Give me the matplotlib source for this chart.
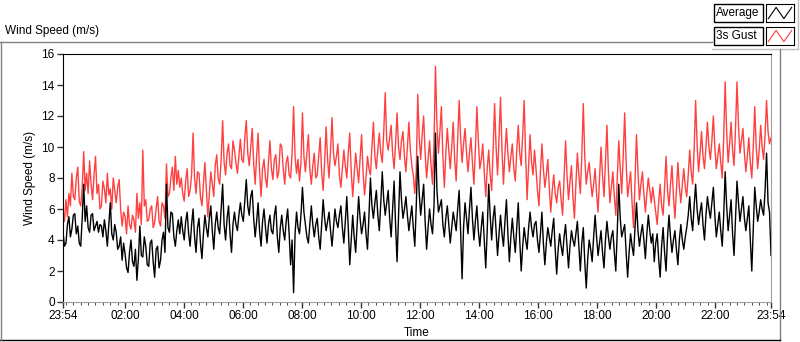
import numpy as np
import matplotlib
matplotlib.use('Agg')
import matplotlib.pyplot as plt
from matplotlib.lines import Line2D
from matplotlib.patches import Rectangle

plt.rcParams['font.family'] = ['Liberation Sans', 'DejaVu Sans']

# 3-minute samples, 23:54 -> 23:54 (one row = 1 hour)
gust = [
    6.0, 5.2, 6.6, 5.5, 7.0, 6.2, 8.3, 6.8, 6.6, 8.0, 8.7, 6.5, 6.2, 7.4, 9.7, 7.2, 8.3, 7.0, 9.1, 7.6,
    6.6, 8.2, 9.4, 7.0, 7.6, 6.0, 6.2, 7.8, 7.3, 6.4, 8.3, 6.9, 7.3, 6.0, 8.0, 7.2, 6.4, 7.4, 7.9, 6.0,
    4.9, 5.8, 5.5, 4.4, 6.2, 5.0, 4.7, 5.6, 5.3, 4.5, 7.0, 5.4, 6.4, 5.0, 9.8, 6.2, 6.6, 5.2, 5.3, 6.0,
    6.2, 4.8, 5.1, 6.0, 6.8, 5.2, 4.9, 6.4, 6.2, 5.4, 8.9, 6.8, 7.0, 8.0, 8.7, 7.2, 9.4, 7.6, 8.5, 7.4,
    8.0, 7.0, 6.5, 7.8, 8.6, 6.8, 7.2, 8.2, 10.9, 8.0, 7.0, 8.4, 8.3, 6.8, 6.2, 7.6, 9.0, 7.2, 5.5, 7.0,
    8.4, 7.6, 6.8, 8.8, 9.5, 8.0, 7.6, 9.2, 11.7, 9.0, 8.2, 9.6, 10.2, 8.8, 8.6, 10.4, 9.8, 9.0, 8.3, 9.4,
    10.5, 9.2, 9.0, 10.6, 11.7, 9.6, 8.8, 10.0, 11.2, 9.0, 7.6, 9.4, 10.9, 8.4, 6.8, 8.6, 9.2, 8.0, 7.4, 9.0,
    10.4, 8.6, 7.9, 9.2, 9.5, 8.0, 8.4, 10.2, 10.0, 8.6, 7.6, 9.0, 9.4, 8.2, 8.0, 9.6, 12.6, 9.4, 8.3, 9.2,
    7.8, 9.0, 12.2, 9.4, 8.4, 9.6, 10.8, 8.6, 7.6, 8.8, 9.6, 8.0, 8.2, 9.4, 10.6, 8.4, 7.2, 9.0, 11.3, 9.2,
    8.0, 9.8, 11.9, 9.6, 8.8, 9.4, 10.2, 8.2, 7.4, 8.6, 9.8, 8.8, 8.0, 9.6, 10.9, 8.4, 6.8, 8.2, 9.6, 8.6,
    7.7, 9.2, 10.8, 8.4, 6.9, 8.0, 9.4, 8.6, 8.2, 10.0, 11.6, 9.4, 8.6, 9.8, 10.9, 9.6, 9.0, 11.0, 13.5, 10.4,
    9.8, 10.6, 11.4, 9.6, 8.6, 10.2, 12.2, 10.0, 9.2, 10.4, 11.0, 9.4, 8.4, 10.0, 11.6, 9.8, 8.8, 8.2, 7.0, 8.4,
    13.4, 10.6, 9.2, 10.8, 12.0, 9.6, 8.0, 9.2, 10.4, 8.8, 7.6, 10.2, 15.2, 11.4, 9.6, 11.0, 12.6, 9.4, 7.4, 9.6,
    11.2, 9.8, 8.6, 10.0, 11.6, 9.2, 7.8, 10.4, 13.0, 10.6, 9.0, 10.2, 11.2, 9.6, 8.4, 9.6, 10.6, 9.0, 7.6, 9.8,
    12.6, 10.4, 8.6, 9.2, 10.2, 8.4, 6.8, 8.6, 9.8, 8.2, 7.2, 9.8, 12.8, 10.0, 8.2, 10.6, 13.2, 9.8, 7.6, 9.6,
    11.2, 9.6, 8.4, 9.4, 10.2, 8.6, 7.8, 9.8, 11.4, 9.6, 8.8, 10.8, 13.0, 9.4, 6.6, 8.8, 10.8, 9.0, 8.2, 9.8,
    8.6, 7.2, 6.2, 8.4, 10.2, 8.6, 7.4, 8.2, 9.2, 7.4, 5.8, 7.2, 8.2, 7.0, 6.4, 7.4, 7.8, 6.6, 5.6, 8.0,
    10.4, 8.2, 6.6, 7.8, 8.8, 6.8, 5.4, 7.6, 9.6, 8.2, 7.0, 9.4, 12.8, 9.4, 7.6, 8.4, 9.0, 7.8, 6.8, 7.6,
    8.6, 7.0, 5.8, 8.0, 10.0, 8.2, 6.8, 9.0, 11.4, 8.4, 6.4, 7.4, 8.4, 6.8, 5.6, 8.0, 10.4, 8.6, 7.0, 9.4,
    12.2, 9.0, 6.8, 7.6, 8.4, 6.4, 4.8, 7.8, 10.8, 8.4, 6.6, 7.6, 8.4, 7.0, 5.8, 7.0, 8.0, 7.2, 6.4, 7.4,
    6.6, 5.8, 5.0, 6.4, 7.6, 6.2, 5.6, 7.4, 9.4, 7.2, 6.2, 7.6, 8.8, 6.8, 5.4, 7.2, 9.0, 7.4, 6.4, 7.6,
    8.6, 7.4, 6.8, 8.2, 9.8, 8.4, 7.6, 9.8, 13.0, 10.2, 8.4, 9.6, 11.0, 9.4, 8.6, 10.0, 11.6, 10.0, 9.2, 10.4,
    12.0, 10.0, 8.6, 9.4, 10.2, 9.0, 8.0, 10.6, 14.2, 11.0, 9.0, 10.2, 11.6, 9.8, 8.8, 11.2, 14.2, 11.4, 9.6, 10.4,
    11.2, 9.6, 8.4, 9.4, 10.6, 9.0, 8.0, 10.0, 12.6, 10.0, 8.6, 9.8, 11.4, 10.0, 9.2, 10.8, 13.0, 11.0, 10.2, 10.6,
]
average = [
    4.5, 3.6, 3.8, 5.0, 5.5, 4.2, 4.7, 5.6, 5.7, 4.4, 4.9, 3.8, 3.6, 5.4, 7.6, 5.2, 6.2, 4.8, 4.5, 5.6,
    5.7, 4.6, 4.9, 5.2, 4.5, 5.0, 4.9, 4.2, 5.3, 4.6, 3.6, 5.0, 6.4, 4.4, 4.0, 5.0, 4.5, 3.4, 3.6, 4.2,
    2.7, 3.8, 3.1, 2.2, 1.9, 3.2, 4.0, 2.6, 2.3, 3.4, 1.4, 2.8, 4.9, 3.0, 2.9, 4.2, 3.6, 2.4, 2.3, 3.8,
    4.0, 2.6, 1.6, 3.4, 3.6, 2.2, 2.7, 4.0, 4.5, 3.2, 7.6, 4.8, 4.5, 5.8, 5.7, 4.2, 3.6, 4.6, 5.3, 4.4,
    5.5, 4.6, 4.0, 5.2, 5.8, 4.4, 3.6, 5.0, 6.0, 4.2, 3.2, 4.8, 5.4, 3.8, 2.8, 4.4, 5.6, 4.8, 4.2, 5.4,
    6.2, 4.6, 3.4, 5.0, 5.8, 4.8, 4.4, 6.0, 7.6, 5.0, 4.0, 5.4, 6.2, 4.4, 3.2, 5.0, 5.8, 5.0, 4.6, 5.6,
    6.4, 5.6, 5.2, 6.6, 7.9, 6.2, 5.6, 6.8, 7.2, 5.4, 4.2, 5.2, 6.4, 4.6, 3.6, 5.2, 6.0, 4.8, 3.8, 5.0,
    5.6, 4.6, 4.4, 5.6, 6.2, 4.2, 3.2, 4.8, 5.6, 4.6, 4.0, 5.2, 6.0, 4.4, 2.4, 4.0, 0.6, 4.4, 5.8, 4.8,
    4.4, 5.6, 7.4, 5.8, 5.0, 4.2, 3.8, 5.0, 6.2, 5.0, 4.2, 5.0, 5.4, 4.2, 3.4, 5.0, 6.6, 5.4, 4.6, 5.2,
    5.8, 4.6, 3.6, 4.8, 6.0, 5.2, 4.8, 5.6, 6.2, 4.8, 3.8, 5.2, 6.8, 4.8, 2.4, 4.0, 5.6, 4.2, 3.2, 5.0,
    6.8, 5.4, 4.4, 5.0, 5.8, 4.4, 3.4, 5.6, 8.0, 6.2, 5.4, 6.4, 7.2, 5.6, 4.6, 6.4, 8.4, 6.6, 5.6, 6.4,
    7.2, 5.4, 4.2, 6.0, 7.8, 5.0, 2.6, 5.4, 8.4, 6.6, 5.4, 6.0, 6.8, 5.6, 4.6, 5.4, 6.2, 4.8, 3.6, 6.2,
    9.4, 7.0, 5.6, 6.6, 7.6, 5.2, 3.4, 4.8, 6.0, 5.0, 4.4, 6.2, 10.9, 7.2, 5.8, 6.2, 6.6, 5.0, 4.2, 5.4,
    6.2, 5.0, 3.8, 4.8, 5.8, 5.2, 4.6, 6.0, 7.2, 4.6, 1.5, 4.8, 6.4, 5.4, 4.4, 6.0, 7.4, 5.4, 4.0, 5.2,
    6.2, 4.6, 3.6, 4.8, 5.8, 4.0, 2.2, 4.6, 7.6, 5.6, 4.0, 5.4, 6.2, 4.6, 3.0, 4.4, 5.6, 4.4, 3.6, 5.2,
    6.6, 4.4, 2.6, 4.2, 5.4, 4.2, 3.2, 4.8, 6.4, 4.0, 2.0, 3.6, 4.8, 4.0, 3.4, 4.8, 5.8, 4.8, 4.2, 5.0,
    5.2, 4.0, 3.2, 4.4, 5.8, 3.8, 2.4, 3.8, 4.8, 4.2, 3.6, 4.6, 5.4, 3.4, 1.8, 3.4, 4.4, 3.6, 3.0, 4.2,
    5.0, 3.6, 2.2, 3.6, 4.6, 4.0, 3.6, 4.4, 5.2, 3.6, 2.0, 3.8, 4.8, 2.6, 0.9, 2.8, 4.0, 3.4, 2.6, 4.2,
    5.6, 4.2, 3.0, 3.8, 4.6, 3.2, 2.2, 4.0, 5.2, 4.2, 3.4, 4.2, 4.6, 3.2, 2.0, 4.6, 7.6, 5.4, 4.2, 4.6,
    5.0, 3.2, 1.6, 3.2, 4.4, 3.6, 3.0, 4.8, 6.4, 4.6, 3.6, 4.4, 5.0, 4.0, 2.8, 4.4, 5.6, 4.6, 3.8, 4.4,
    2.6, 3.8, 4.4, 2.8, 1.6, 3.6, 4.8, 3.2, 2.0, 4.2, 5.6, 4.2, 3.2, 4.0, 4.6, 3.4, 2.4, 4.0, 5.0, 4.0,
    3.4, 4.2, 4.8, 5.6, 6.8, 5.4, 4.6, 6.2, 7.6, 6.0, 5.0, 5.8, 6.4, 5.0, 4.0, 5.6, 6.8, 6.0, 5.4, 6.4,
    7.4, 5.6, 4.2, 5.0, 5.8, 4.6, 3.6, 5.6, 8.4, 6.2, 4.6, 5.6, 6.6, 4.4, 3.0, 5.4, 7.8, 6.4, 5.2, 6.0,
    6.8, 5.4, 4.6, 5.4, 6.2, 4.0, 2.0, 4.8, 7.4, 6.2, 5.2, 5.8, 6.6, 6.0, 5.6, 7.2, 9.6, 6.4, 5.8, 3.0,
]

tick_minutes = [0, 126, 246, 366, 486, 606, 726, 846, 966, 1086, 1206, 1326, 1440]
tick_labels = ['23:54', '02:00', '04:00', '06:00', '08:00', '10:00', '12:00',
               '14:00', '16:00', '18:00', '20:00', '22:00', '23:54']

n = len(gust)
t = np.arange(n) * 1440 / (n - 1)

fig = plt.figure(figsize=(8, 3.42), dpi=100)
ax = fig.add_axes([63/800, 1 - 302/342, 708/800, 248/342])

ax.plot(t, gust, color='#ff4040', lw=1)
ax.plot(t, average, color='black', lw=1)

ax.set_xlim(0, 1440)
ax.set_ylim(0, 16)
ax.set_yticks(range(0, 17, 2))
ax.set_xticks(tick_minutes)
ax.set_xticklabels(tick_labels)
ax.set_xticks(np.arange(6, 1440, 15), minor=True)
ax.tick_params(axis='both', labelsize=8.5, length=4, width=1, color='#333333', pad=2)
ax.tick_params(axis='x', which='minor', length=2.5, color='#333333')
ax.set_ylabel('Wind Speed (m/s)', fontsize=8.5, labelpad=4)
ax.set_xlabel('Time', fontsize=8.5, labelpad=3)

ax.spines['top'].set_color('black')
ax.spines['left'].set_color('black')
ax.spines['right'].set_color('#a0a0a0')
ax.spines['bottom'].set_color('#a0a0a0')

# outer panel frame
gray = '#808080'
fig.add_artist(Line2D([0, 712/800], [1 - 42/342] * 2, color=gray, lw=1))
fig.add_artist(Line2D([712/800, 798/800], [1 - 49/342] * 2, color='#c0c0c0', lw=1))
fig.add_artist(Line2D([798/800] * 2, [1 - 49/342, 1], color='#c0c0c0', lw=1))
fig.add_artist(Line2D([780/800] * 2, [1 - 49/342, 1 - 340/342], color=gray, lw=1))
fig.add_artist(Line2D([0, 780/800], [1 - 340/342] * 2, color='black', lw=1))
fig.add_artist(Line2D([0.5/800] * 2, [1 - 42/342, 1 - 340/342], color=gray, lw=1))

fig.text(5/800, 1 - 31/342, 'Wind Speed (m/s)', fontsize=8.5, va='center', ha='left')

# legend
for i, (name, col) in enumerate([('Average', 'black'), ('3s Gust', '#ff4040')]):
    top = 4 + 23 * i
    fig.add_artist(Rectangle((714/800, 1 - (top + 18)/342), 49/800, 18/342,
                             transform=fig.transFigure, fc='white', ec='black', lw=1))
    fig.text(716/800, 1 - (top + 9)/342, name, fontsize=8.5, va='center', ha='left')
    lax = fig.add_axes([766/800, 1 - (top + 18)/342, 28/800, 18/342])
    lax.plot([0, 1, 2, 3], [0, 1, 0, 1], color=col, lw=0.8)
    lax.set_xlim(-0.3, 3.3)
    lax.set_ylim(-0.3, 1.3)
    lax.set_xticks([])
    lax.set_yticks([])
    for s in lax.spines.values():
        s.set_color('black')

fig.savefig('out.png', dpi=100)
